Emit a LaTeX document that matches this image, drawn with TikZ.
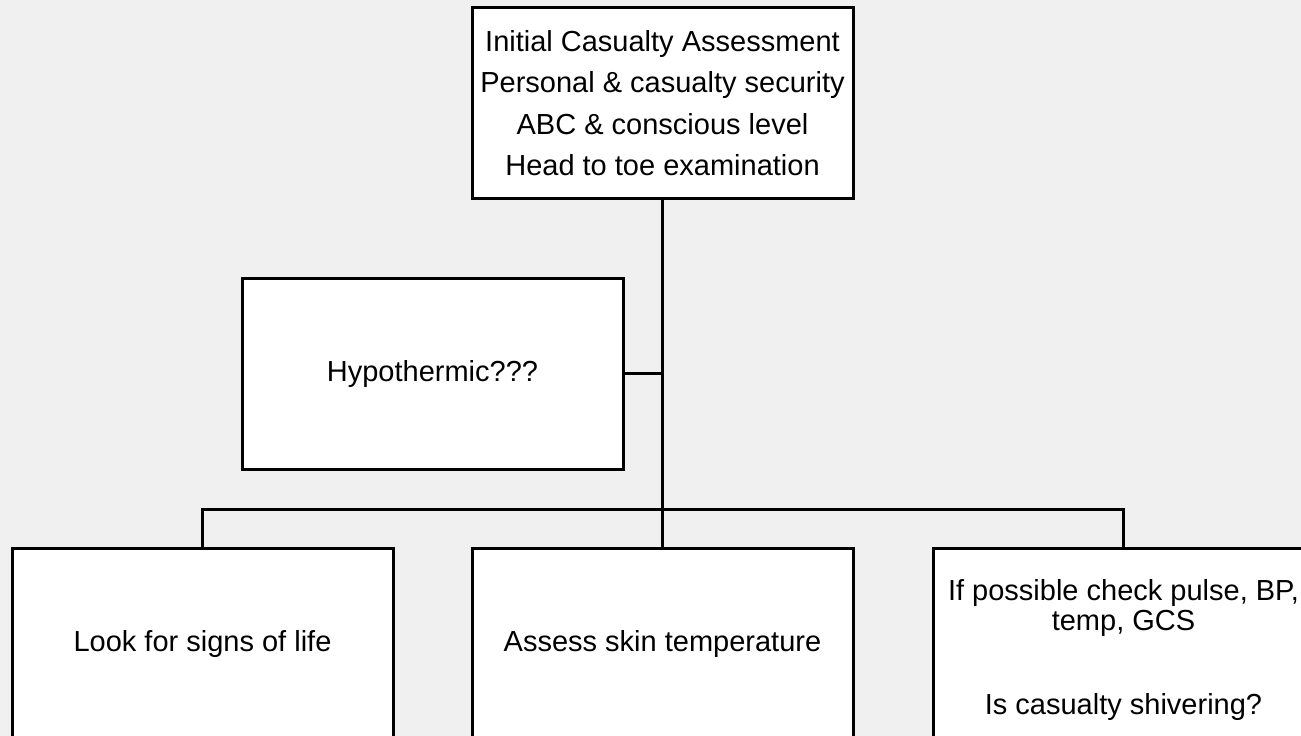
\documentclass[tikz,border=0pt]{standalone}
\usepackage{fontspec}
\setmainfont{Liberation Sans}
\definecolor{bgc}{HTML}{F0F0F0}
\begin{document}
\begin{tikzpicture}[x=1pt,y=-1pt,
  box/.style={draw=black, line width=3pt, fill=white, minimum width=381pt, minimum height=191pt, inner sep=0pt, align=center, font=\fontsize{29}{41.5}\selectfont},
  conn/.style={draw=black, line width=3pt}]
\fill[bgc] (0,0) rectangle (1301,736);
\useasboundingbox (0,0) rectangle (1301,736);
\node[box] (top) at (662.5,103) {Initial Casualty Assessment\\Personal \& casualty security\\ABC \& conscious level\\Head to toe examination};
\node[box] (hyp) at (432.5,373.5) {Hypothermic???};
\node[box] (life) at (202.5,643.5) {Look for signs of life};
\node[box] (skin) at (662.5,643.5) {Assess skin temperature};
\node[box,font=\fontsize{29}{30}\selectfont] (vit) at (1123.5,643.5) {\rule{0pt}{34pt}If possible check pulse, BP,\\temp, GCS\\[55pt]Is casualty shivering?};
\coordinate (busM) at (top.south |- 0,509);
\draw[conn] (top.south) -- (busM);
\draw[conn] (life.north) |- (busM) -| (vit.north);
\draw[conn] (busM) -- (skin.north);
\draw[conn] (hyp.east) -- (hyp.east -| top.south);
\end{tikzpicture}
\end{document}
